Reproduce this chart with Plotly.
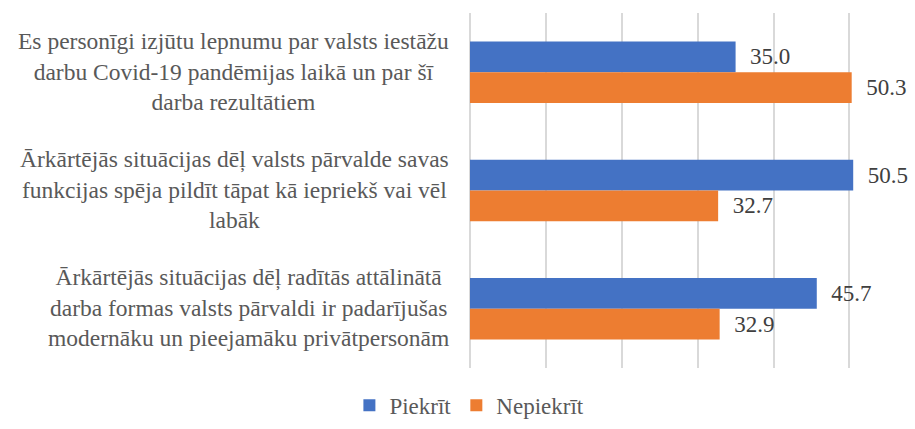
import plotly.graph_objects as go

categories = [
    "Es personīgi izjūtu lepnumu par valsts iestāžu<br>darbu Covid-19 pandēmijas laikā un par šī<br>darba rezultātiem",
    "Ārkārtējās situācijas dēļ valsts pārvalde savas<br>funkcijas spēja pildīt tāpat kā iepriekš vai vēl<br>labāk",
    "Ārkārtējās situācijas dēļ radītās attālinātā<br>darba formas valsts pārvaldi ir padarījušas<br>modernāku un pieejamāku privātpersonām",
]
piekrit = [35.0, 50.5, 45.7]
nepiekrit = [50.3, 32.7, 32.9]
series_names = ["Piekrīt", "Nepiekrīt"]

FONT = "Liberation Serif, Times New Roman, serif"
fig = go.Figure()
for name, vals, color in [(series_names[0], piekrit, "#4472C4"), (series_names[1], nepiekrit, "#ED7D31")]:
    fig.add_trace(go.Bar(
        y=categories, x=vals, name=name, orientation="h",
        marker=dict(color=color, line=dict(width=0)),
        text=vals, texttemplate="\u00a0\u00a0%{x:.1f}", textposition="outside",
        textfont=dict(family=FONT, size=23, color="#404040"),
        cliponaxis=False, constraintext="none",
    ))

for c in categories:
    fig.add_annotation(
        x=0, xref="paper", y=c, yref="y", text=c, showarrow=False,
        xanchor="right", yanchor="middle", align="center", xshift=-19, yshift=1,
        font=dict(family=FONT, size=23.5, color="#595959"),
    )

fig.update_layout(
    width=915, height=429,
    margin=dict(l=470, r=58, t=13, b=61, autoexpand=False),
    paper_bgcolor="white", plot_bgcolor="white",
    barmode="group", bargap=0.48, bargroupgap=0,
    font=dict(family=FONT, size=23, color="#595959"),
    legend=dict(orientation="h", xref="container", yref="container",
                x=0.513, xanchor="center", y=0.005, yanchor="bottom",
                font=dict(family=FONT, size=23, color="#595959")),
    xaxis=dict(range=[0, 51], tick0=0, dtick=10, showgrid=True, gridcolor="#D9D9D9", gridwidth=1.5,
               zeroline=True, zerolinecolor="#D9D9D9", zerolinewidth=1.5,
               showticklabels=False, showline=False, ticks=""),
    yaxis=dict(autorange="reversed", showticklabels=False, showgrid=False,
               zeroline=False, showline=False, ticks=""),
)
fig.write_html("out.html", config={"displayModeBar": False},
               post_script="document.body.style.margin='0';document.body.style.overflow='hidden';")
